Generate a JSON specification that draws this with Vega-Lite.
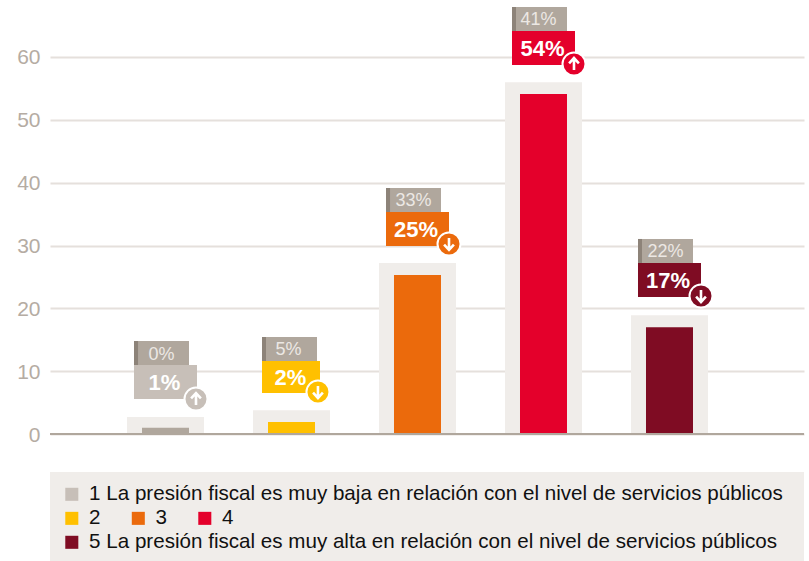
{"$schema":"https://vega.github.io/schema/vega-lite/v6.json","width":754,"height":561,"autosize":"none","padding":{"left":50,"top":0,"right":5,"bottom":0},"background":"white","config":{"view":{"stroke":null},"text":{"font":"Liberation Sans"}},
"datasets":{"d":[
{"cat":1,"value":1,"bg":2.7,"prev":"0%","curr":"1%","arrow":"up","legendLabel":"1 La presión fiscal es muy baja en relación con el nivel de servicios públicos","gTop":14.8,"gBot":10.98,"cBot":5.57,"gMid":12.8,"cMid":8.2,"x0":0.75,"sx":0.782,"gx1":1.1865,"cx1":1.25,"gtx":0.968,"ctx":0.992,"ax":1.242,"ay":5.57},
{"cat":2,"value":1.9,"bg":3.8,"prev":"5%","curr":"2%","arrow":"down","legendLabel":"2","gTop":15.44,"gBot":11.62,"cBot":6.53,"gMid":13.5,"cMid":9.0,"x0":1.7659,"sx":1.7976,"gx1":2.2024,"cx1":2.2262,"gtx":1.976,"ctx":1.992,"ax":2.21,"ay":6.68},
{"cat":3,"value":25.3,"bg":27.2,"prev":"33%","curr":"25%","arrow":"down","legendLabel":"3","gTop":39.15,"gBot":35.33,"cBot":29.92,"gMid":37.2,"cMid":32.6,"x0":2.75,"sx":2.782,"gx1":3.1865,"cx1":3.25,"gtx":2.968,"ctx":2.988,"ax":3.25,"ay":30.24},
{"cat":4,"value":54.1,"bg":56,"prev":"41%","curr":"54%","arrow":"up","legendLabel":"4","gTop":67.96,"gBot":64.14,"cBot":58.73,"gMid":66.0,"cMid":61.4,"x0":3.75,"sx":3.782,"gx1":4.1865,"cx1":4.25,"gtx":3.96,"ctx":3.992,"ax":4.242,"ay":58.89},
{"cat":5,"value":17,"bg":18.9,"prev":"22%","curr":"17%","arrow":"down","legendLabel":"5 La presión fiscal es muy alta en relación con el nivel de servicios públicos","gTop":31.04,"gBot":27.22,"cBot":21.8,"gMid":29.1,"cMid":24.5,"x0":4.75,"sx":4.782,"gx1":5.1865,"cx1":5.25,"gtx":4.968,"ctx":4.988,"ax":5.25,"ay":21.96}]},
"data":{"name":"d"},
"resolve":{"scale":{"color":"independent"}},
"layer":[
{"data":{"values":[{"left":0.0833,"right":6.0675,"top":-6.05,"bottom":-20.21}]},"mark":{"type":"rect","fill":"#f0edea"},
"encoding":{"x":{"field":"left","type":"quantitative","axis":null,"scale":{"domain":[0.0833,6.0675],"nice":false,"zero":false,"padding":0}},"x2":{"field":"right"},
"y":{"field":"top","type":"quantitative","scale":{"domain":[-20.21,69.07],"nice":false,"zero":false,"padding":0},"axis":{"values":[0,10,20,30,40,50,60],"title":null,"domain":false,"ticks":false,"labelPadding":10,"labelOffset":1,"labelFont":"Liberation Sans","labelFontSize":21,"labelColor":"#b5aca3","grid":true,"gridColor":"#e5e0dc","gridWidth":2}},"y2":{"field":"bottom"}}},
{"mark":{"type":"bar","orient":"vertical","size":77,"fill":"#f0edea"},"encoding":{"x":{"field":"cat","type":"quantitative","axis":null,"scale":{"domain":[0.0833,6.0675],"nice":false,"zero":false,"padding":0}},"y":{"field":"bg","type":"quantitative","stack":null,"scale":{"domain":[-20.21,69.07],"nice":false,"zero":false,"padding":0}}}},
{"mark":{"type":"bar","orient":"vertical","size":47},"encoding":{"x":{"field":"cat","type":"quantitative","axis":null,"scale":{"domain":[0.0833,6.0675],"nice":false,"zero":false,"padding":0}},"y":{"field":"value","type":"quantitative","stack":null,"scale":{"domain":[-20.21,69.07],"nice":false,"zero":false,"padding":0}},"color":{"field":"cat","type":"nominal","legend":null,"scale":{"domain":[1,2,3,4,5],"range":["#b0a79d","#ffc000","#eb6a0c","#e4002b","#7f0c23"]}}}},
{"mark":{"type":"rule","color":"#b0a79d","strokeWidth":2},"encoding":{"y":{"datum":0,"type":"quantitative","scale":{"domain":[-20.21,69.07],"nice":false,"zero":false,"padding":0}}}},
{"mark":{"type":"rect","fill":"#b0a79d"},"encoding":{"x":{"field":"x0","type":"quantitative","axis":null,"scale":{"domain":[0.0833,6.0675],"nice":false,"zero":false,"padding":0}},"x2":{"field":"gx1"},"y":{"field":"gTop","type":"quantitative","scale":{"domain":[-20.21,69.07],"nice":false,"zero":false,"padding":0}},"y2":{"field":"gBot"}}},
{"mark":{"type":"rect","fill":"#8d8379"},"encoding":{"x":{"field":"x0","type":"quantitative","axis":null,"scale":{"domain":[0.0833,6.0675],"nice":false,"zero":false,"padding":0}},"x2":{"field":"sx"},"y":{"field":"gTop","type":"quantitative","scale":{"domain":[-20.21,69.07],"nice":false,"zero":false,"padding":0}},"y2":{"field":"gBot"}}},
{"transform":[{"filter":"datum.cat==1"}],"mark":{"type":"rect"},"encoding":{"x":{"field":"x0","type":"quantitative","axis":null,"scale":{"domain":[0.0833,6.0675],"nice":false,"zero":false,"padding":0}},"x2":{"field":"cx1"},"y":{"field":"gBot","type":"quantitative","scale":{"domain":[-20.21,69.07],"nice":false,"zero":false,"padding":0}},"y2":{"field":"cBot"},
"color":{"field":"legendLabel","type":"nominal","scale":{"range":["#c7bfb8"]},"legend":{"orient":"none","legendX":11.5,"legendY":484,"title":null,"padding":0,"symbolType":"square","symbolSize":170,"symbolStrokeWidth":0,"labelFont":"Liberation Sans","labelFontSize":20.6,"labelColor":"#111111","labelOffset":7,"labelLimit":760}}}},
{"transform":[{"filter":"datum.cat>=2 && datum.cat<=4"}],"mark":{"type":"rect"},"encoding":{"x":{"field":"x0","type":"quantitative","axis":null,"scale":{"domain":[0.0833,6.0675],"nice":false,"zero":false,"padding":0}},"x2":{"field":"cx1"},"y":{"field":"gBot","type":"quantitative","scale":{"domain":[-20.21,69.07],"nice":false,"zero":false,"padding":0}},"y2":{"field":"cBot"},
"color":{"field":"legendLabel","type":"nominal","scale":{"domain":["2","3","4"],"range":["#ffc000","#eb6a0c","#e4002b"]},"legend":{"orient":"none","legendX":11.5,"legendY":508,"title":null,"padding":0,"columns":3,"columnPadding":26.5,"symbolType":"square","symbolSize":170,"symbolStrokeWidth":0,"labelFont":"Liberation Sans","labelFontSize":20.6,"labelColor":"#111111","labelOffset":7}}}},
{"transform":[{"filter":"datum.cat==5"}],"mark":{"type":"rect"},"encoding":{"x":{"field":"x0","type":"quantitative","axis":null,"scale":{"domain":[0.0833,6.0675],"nice":false,"zero":false,"padding":0}},"x2":{"field":"cx1"},"y":{"field":"gBot","type":"quantitative","scale":{"domain":[-20.21,69.07],"nice":false,"zero":false,"padding":0}},"y2":{"field":"cBot"},
"color":{"field":"legendLabel","type":"nominal","scale":{"range":["#7f0c23"]},"legend":{"orient":"none","legendX":11.5,"legendY":532,"title":null,"padding":0,"symbolType":"square","symbolSize":170,"symbolStrokeWidth":0,"labelFont":"Liberation Sans","labelFontSize":20.6,"labelColor":"#111111","labelOffset":7,"labelLimit":760}}}},
{"mark":{"type":"point","shape":"circle","filled":true,"size":529,"stroke":"white","strokeWidth":2,"opacity":1},"encoding":{"x":{"field":"ax","type":"quantitative","axis":null,"scale":{"domain":[0.0833,6.0675],"nice":false,"zero":false,"padding":0}},"y":{"field":"ay","type":"quantitative","scale":{"domain":[-20.21,69.07],"nice":false,"zero":false,"padding":0}},"color":{"field":"cat","type":"nominal","legend":null,"scale":{"domain":[1,2,3,4,5],"range":["#c7bfb8","#ffc000","#eb6a0c","#e4002b","#7f0c23"]}}}},
{"mark":{"type":"point","filled":false,"size":196,"stroke":"white","strokeWidth":2.6,"opacity":1},"encoding":{"x":{"field":"ax","type":"quantitative","axis":null,"scale":{"domain":[0.0833,6.0675],"nice":false,"zero":false,"padding":0}},"y":{"field":"ay","type":"quantitative","scale":{"domain":[-20.21,69.07],"nice":false,"zero":false,"padding":0}},"shape":{"field":"arrow","type":"nominal","legend":null,"scale":{"domain":["up","down"],"range":["M0,0.85L0,-0.85M-0.7,-0.1L0,-0.85L0.7,-0.1","M0,-0.85L0,0.85M-0.7,0.1L0,0.85L0.7,0.1"]}}}},
{"mark":{"type":"text","font":"Liberation Sans","fontSize":18,"fill":"#ece8e4","baseline":"middle","align":"center","dy":1},"encoding":{"x":{"field":"gtx","type":"quantitative","axis":null,"scale":{"domain":[0.0833,6.0675],"nice":false,"zero":false,"padding":0}},"y":{"field":"gMid","type":"quantitative","scale":{"domain":[-20.21,69.07],"nice":false,"zero":false,"padding":0}},"text":{"field":"prev"}}},
{"mark":{"type":"text","font":"Liberation Sans","fontWeight":"bold","fontSize":22,"fill":"white","baseline":"middle","align":"center","dy":1},"encoding":{"x":{"field":"ctx","type":"quantitative","axis":null,"scale":{"domain":[0.0833,6.0675],"nice":false,"zero":false,"padding":0}},"y":{"field":"cMid","type":"quantitative","scale":{"domain":[-20.21,69.07],"nice":false,"zero":false,"padding":0}},"text":{"field":"curr"}}}
]}
